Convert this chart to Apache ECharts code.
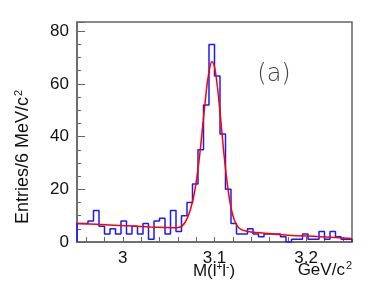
<!DOCTYPE html>
<html><head><meta charset="utf-8">
<script src="https://cdn.jsdelivr.net/npm/echarts@6/dist/echarts.min.js"></script>
<style>html,body{margin:0;padding:0;background:#fff}#c{width:374px;height:286px}</style>
</head><body><div id="c"></div>
<script>
// Histogram: bin low edges (GeV/c^2), 6 MeV bins
const binLowEdges = [2.950,2.956,2.962,2.968,2.974,2.980,2.986,2.992,2.998,3.004,
  3.010,3.016,3.022,3.028,3.034,3.040,3.046,3.052,3.058,3.064,
  3.070,3.076,3.082,3.088,3.094,3.100,3.106,3.112,3.118,3.124,
  3.130,3.136,3.142,3.148,3.154,3.160,3.166,3.172,3.178,3.184,
  3.190,3.196,3.202,3.208,3.214,3.220,3.226,3.232,3.238,3.244];
const binCounts = [7,7,8,12,6,3,5,3,8,3,
  6,3,7,1,8,9,3,12,4,10,
  15,22,35,52,75,63,41,20,7,3,
  3,5,3,2,3,3,3,2,0,1,
  1,3,1,1,4,1,4,2,1,1];
const binWidth = 0.006;
// Fit curve
const fitX = [2.95,2.99,3.03,3.055,3.062,3.068,3.073,3.078,3.083,3.088,3.092,3.095,3.0972,3.100,3.103,3.106,3.110,3.114,3.118,3.122,3.127,3.135,3.15,3.18,3.215,3.25];
const fitY = [7.0,6.4,5.7,5.4,5.6,7.5,11.5,18.5,30.5,47,60,66.5,68.4,66.5,59.4,49.4,34.5,22,13,8,5.2,4.1,3.5,2.6,2.0,1.3];
const xTickLabels = ['3','3.1','3.2'];
const yTickLabels = ['0','20','40','60','80'];

const histData = [[binLowEdges[0], 0]];
binLowEdges.forEach((x, i) => histData.push([x, binCounts[i]]));
const lastEdge = binLowEdges[binLowEdges.length - 1] + binWidth;
histData.push([lastEdge, binCounts[binCounts.length - 1]]);
histData.push([lastEdge, 0]);
const fitData = fitX.map((x, i) => [x, fitY[i]]);

const FONT = 'Liberation Sans';
const AX = '#666';
const TXT = '#111';
const supStyle = {fontSize: 11, fontFamily: FONT, fill: TXT, color: TXT, verticalAlign: 'top', padding: [0, 0, 9, 1]};
const chart = echarts.init(document.getElementById('c'), null, {renderer: 'canvas'});
chart.setOption({
  animation: false,
  backgroundColor: '#fff',
  grid: {left: 77, right: 22, top: 22, bottom: 44, containLabel: false, outerBoundsMode: 'none',
    show: true, borderColor: AX, borderWidth: 1.5, backgroundColor: 'transparent'},
  xAxis: {
    type: 'value', min: 2.95, max: 3.25, splitNumber: 15, minInterval: 0.02, maxInterval: 0.02,
    axisLine: {show: true, lineStyle: {color: AX, width: 1.5}},
    axisTick: {show: true, inside: true, length: 5, lineStyle: {color: AX}},
    splitLine: {show: false},
    axisLabel: {
      margin: 8, color: TXT, fontFamily: FONT, fontSize: 17,
      showMinLabel: false, showMaxLabel: false,
      formatter: v => {
        const r = Math.round(v * 10) / 10;
        if (Math.abs(v - r) > 1e-6) return '';
        const s = String(r);
        return xTickLabels.includes(s) ? s : '';
      }
    }
  },
  yAxis: [{
    type: 'value', min: 0, max: 83.5, interval: 5,
    axisLine: {show: true, lineStyle: {color: AX, width: 1.5}},
    axisTick: {show: true, inside: true, length: 4, lineStyle: {color: AX}},
    splitLine: {show: false},
    axisLabel: {
      margin: 8, color: TXT, fontFamily: FONT, fontSize: 17,
      formatter: v => {
        const n = Math.round(v);
        const s = String(n);
        return (Math.abs(v - n) < 1e-6 && n % 20 === 0 && yTickLabels.includes(s)) ? s : '';
      }
    }
  }, {
    type: 'value', min: 0, max: 83.5, interval: 20, position: 'left',
    axisLine: {show: false},
    axisTick: {show: true, inside: true, length: 8, lineStyle: {color: AX}},
    axisLabel: {show: false}, splitLine: {show: false}
  }],
  graphic: [
    {type: 'text', x: 214, y: 271,
      style: {text: 'M(l{sup|+}l{sup|-})', font: '17px "Liberation Sans"', fill: TXT, align: 'center', verticalAlign: 'middle',
        rich: {sup: {fontSize: 10, fontFamily: FONT, fill: TXT, verticalAlign: 'top', padding: [0, 0, 8, 0]}}}},
    {type: 'text', x: 352, y: 270,
      style: {text: 'GeV/c{sup|2}', font: '17px "Liberation Sans"', fill: TXT, align: 'right', verticalAlign: 'middle', rich: {sup: supStyle}}},
    {type: 'text', x: 23, y: 157, rotation: Math.PI / 2,
      style: {text: 'Entries/6 MeV/c{sup|2}', font: '18px "Liberation Sans"', fill: TXT, align: 'center', verticalAlign: 'middle', rich: {sup: supStyle}}},
    {type: 'text', x: 274, y: 75, style: {text: '(a)', font: '300 24px "DejaVu Sans"', fill: '#444', align: 'center', verticalAlign: 'middle'}}
  ],
  series: [{
    type: 'line', step: 'end', data: histData, showSymbol: false, symbol: 'none',
    lineStyle: {color: '#1a1aff', width: 1.5}, z: 2
  }, {
    type: 'line', data: fitData, smooth: 0.4, showSymbol: false, symbol: 'none',
    lineStyle: {color: '#ff0000', width: 1.5}, z: 3
  }]
});
</script></body></html>
